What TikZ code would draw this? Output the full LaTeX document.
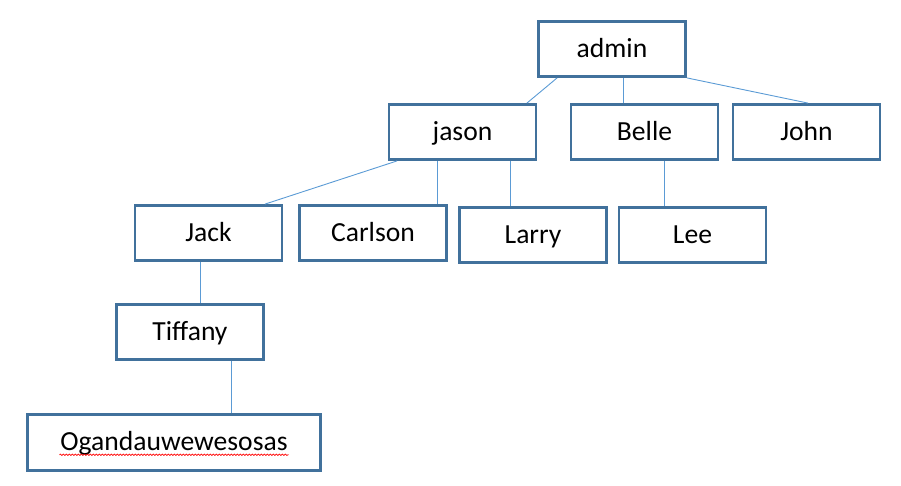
\documentclass[tikz,border=0pt]{standalone}
\usepackage{fontspec}
\setmainfont{Carlito}
\usetikzlibrary{decorations.pathmorphing}
\definecolor{boxblue}{HTML}{41719C}
\definecolor{lineblue}{HTML}{5B9BD5}
\begin{document}
\begin{tikzpicture}[x=1pt, y=-1pt,
    member/.style={draw=boxblue, line width=2.8pt, fill=white, minimum width=147pt, minimum height=55pt,
      inner sep=0pt, font=\fontsize{27.6}{32}\selectfont, text height=19pt, text depth=2.5pt},
    tie/.style={draw=lineblue, line width=0.9pt},
    squiggle/.style={draw=red, line width=0.7pt, decorate, decoration={snake, segment length=3pt, amplitude=0.7pt}}]
          \useasboundingbox (0,0) rectangle (901,485);
          \node[member] (admin) at (612, 49) {admin};
          \node[member] (jason) at (462.5, 132) {jason};
          \node[member] (Belle) at (644.5, 132) {Belle};
          \node[member] (John) at (806.5, 132) {John};
          \node[member] (Jack) at (208.5, 233) {Jack};
          \node[member] (Carlson) at (373, 233) {Carlson};
          \node[member] (Larry) at (533, 235) {Larry};
          \node[member] (Lee) at (692.5, 235) {Lee};
          \node[member] (Tiffany) at (190, 332) {Tiffany};
          \node[member, minimum width=293pt, minimum height=56pt] (Oga) at (174, 442.5) {Ogandauwewesosas};
          \draw[tie] ([xshift=20pt]admin.south west) -- ([xshift=-10.5pt]jason.north east);
          \draw[tie] ([xshift=11pt]admin.south) -- ([xshift=11pt]admin.south |- Belle.north);
          \draw[tie] (admin.south east) -- ([xshift=1.5pt]John.north);
          \draw[tie] ([xshift=9.5pt]jason.south west) -- ([xshift=56.5pt]Jack.north);
          \draw[tie] ([xshift=49.5pt]jason.south west) -- ([xshift=49.5pt]jason.south west |- Carlson.north);
          \draw[tie] ([xshift=47.5pt]jason.south) -- ([xshift=47.5pt]jason.south |- Larry.north);
          \draw[tie] ([xshift=19.5pt]Belle.south) -- ([xshift=19.5pt]Belle.south |- Lee.north);
          \draw[tie] ([xshift=-8.5pt]Jack.south) -- ([xshift=-8.5pt]Jack.south |- Tiffany.north);
          \draw[tie] ([xshift=41pt]Tiffany.south) -- ([xshift=41pt]Tiffany.south |- Oga.north);
          \draw[squiggle] ([xshift=-114.5pt, yshift=-4pt]Oga.base) -- ([xshift=114.5pt, yshift=-4pt]Oga.base);
\end{tikzpicture}
\end{document}
